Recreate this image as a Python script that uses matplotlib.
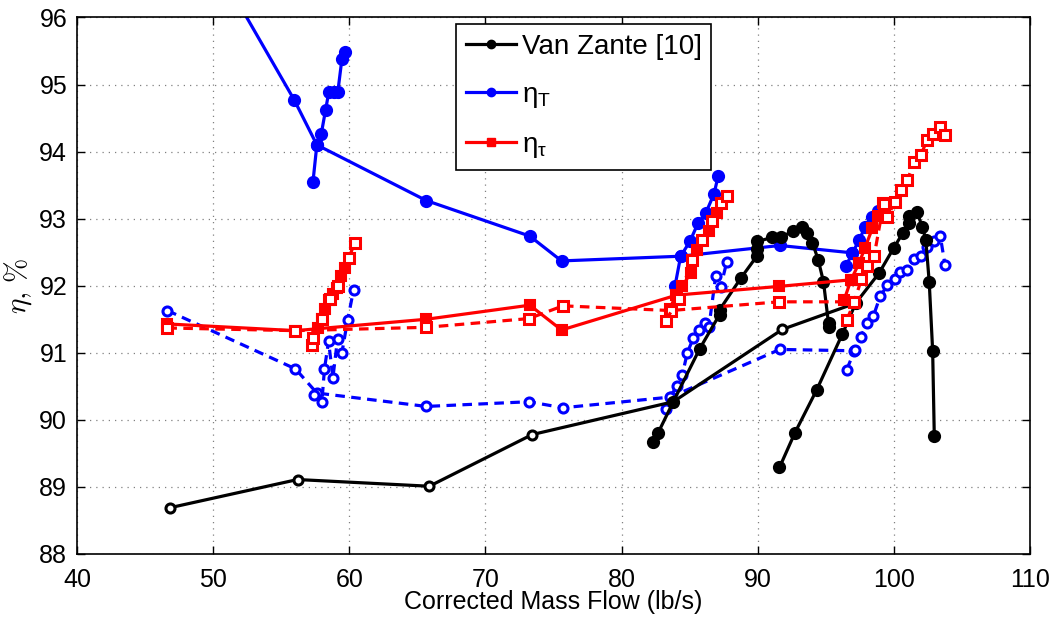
import numpy as np
import matplotlib
matplotlib.use('Agg')
import matplotlib.pyplot as plt
from matplotlib.lines import Line2D

plt.rcParams['font.family'] = ['Liberation Sans', 'DejaVu Sans']
plt.rcParams['mathtext.fontset'] = 'dejavusans'

# ---- Van Zante [10] (black) ----
vz_ol_x = [46.84, 56.2, 65.88, 73.43, 83.8, 91.82, 97.2]
vz_ol_y = [88.69, 89.11, 89.01, 89.78, 90.27, 91.35, 91.74]
vz_s1_x = [82.3, 82.67, 83.8, 85.74, 87.2, 87.2, 88.75, 89.97, 89.97, 89.97, 91.07, 91.69,
           92.62, 93.24, 93.65, 94.02, 94.44, 94.83, 95.2, 95.2]
vz_s1_y = [89.67, 89.8, 90.27, 91.06, 91.57, 91.64, 92.11, 92.45, 92.55, 92.66, 92.72, 92.73,
           92.81, 92.88, 92.78, 92.64, 92.39, 92.06, 91.44, 91.38]
vz_s2_x = [91.6, 92.74, 94.34, 96.22, 97.2, 98.92, 99.98, 100.64, 101.13, 101.13, 101.68,
           102.1, 102.35, 102.6, 102.85, 102.97]
vz_s2_y = [89.29, 89.81, 90.45, 91.28, 91.74, 92.19, 92.56, 92.78, 92.93, 93.04, 93.1,
           92.88, 92.68, 92.05, 91.03, 89.76]

# ---- eta_T (blue) ----
bt_ol_x = [46.8, 55.96, 57.62, 65.66, 73.26, 75.59, 84.34, 91.62, 96.96]
bt_ol_y = [98.0, 94.77, 94.1, 93.27, 92.74, 92.37, 92.44, 92.6, 92.49]
bt_ol2_x = [46.64, 56.05, 57.62, 65.66, 73.19, 75.7, 83.6, 91.62, 97.08]
bt_ol2_y = [91.63, 90.76, 90.40, 90.2, 90.27, 90.18, 90.34, 91.05, 91.03]
bt_s1_x = [57.33, 57.62, 57.94, 58.26, 58.5, 58.85, 59.16, 59.46, 59.7]
bt_s1_y = [93.54, 94.1, 94.26, 94.62, 94.89, 94.89, 94.89, 95.38, 95.49]
bt_d1_x = [57.38, 57.99, 58.18, 58.48, 58.8, 59.14, 59.46, 59.88, 60.32]
bt_d1_y = [90.37, 90.27, 90.76, 91.17, 90.63, 91.21, 91.0, 91.49, 91.94]
bt_s2_x = [83.92, 84.34, 85.02, 85.61, 86.18, 86.79, 87.09]
bt_s2_y = [91.99, 92.44, 92.66, 92.93, 93.08, 93.37, 93.63]
bt_d2_x = [83.24, 83.55, 84.1, 84.46, 84.83, 85.27, 85.68, 86.1, 86.42, 86.91, 87.28, 87.72]
bt_d2_y = [90.16, 90.34, 90.51, 90.67, 91.0, 91.22, 91.34, 91.44, 91.39, 92.14, 91.98, 92.35]
bt_s3_x = [96.47, 96.96, 97.45, 97.87, 98.36, 98.8]
bt_s3_y = [92.29, 92.49, 92.68, 92.87, 93.02, 93.11]
bt_d3_x = [96.54, 97.13, 97.57, 98.06, 98.5, 98.99, 99.53, 100.07, 100.46, 100.96, 101.5,
           101.99, 102.43, 102.92, 103.41, 103.76]
bt_d3_y = [90.75, 91.04, 91.24, 91.45, 91.55, 91.84, 92.01, 92.1, 92.21, 92.23, 92.4,
           92.45, 92.58, 92.67, 92.74, 92.31]

# ---- eta_tau (red) ----
rt_ol_x = [46.64, 56.05, 65.66, 73.26, 75.59, 84.04, 91.57, 96.96]
rt_ol_y = [91.43, 91.33, 91.50, 91.71, 91.34, 91.86, 91.99, 92.09]
rt_ol2_x = [46.64, 56.05, 65.66, 73.19, 75.7, 83.6, 91.57, 97.08]
rt_ol2_y = [91.37, 91.33, 91.38, 91.51, 91.70, 91.63, 91.76, 91.76]
rt_s1_x = [57.67, 57.99, 58.24, 58.53, 58.8, 59.09, 59.41, 59.71]
rt_s1_y = [91.37, 91.51, 91.65, 91.79, 91.88, 91.96, 92.14, 92.26]
rt_d1_x = [57.3, 57.35, 58.0, 58.6, 59.2, 59.97, 60.39]
rt_d1_y = [91.12, 91.22, 91.5, 91.8, 92.0, 92.41, 92.64]
rt_s2_x = [83.55, 83.97, 84.46, 85.07, 85.56, 86.42, 87.03]
rt_s2_y = [91.65, 91.86, 91.99, 92.19, 92.54, 92.81, 93.08]
rt_d2_x = [83.24, 84.2, 85.19, 85.93, 86.66, 87.28, 87.72]
rt_d2_y = [91.48, 91.8, 92.39, 92.68, 92.96, 93.23, 93.34]
rt_s3_x = [96.35, 96.84, 97.45, 97.87, 98.43, 98.8, 99.17]
rt_s3_y = [91.79, 92.08, 92.34, 92.56, 92.86, 93.04, 93.23]
rt_d3_x = [96.54, 97.08, 97.62, 98.06, 98.55, 99.24, 99.53, 100.07, 100.51, 101.0, 101.49,
           101.99, 102.43, 102.84, 103.41, 103.75]
rt_d3_y = [91.49, 91.75, 92.1, 92.3, 92.44, 93.22, 93.03, 93.25, 93.43, 93.58, 93.84,
           93.95, 94.17, 94.26, 94.36, 94.25]

legend_labels = ['Van Zante [10]', 'η$_\\mathregular{T}$', 'η$_\\mathregular{τ}$']

fig = plt.figure(figsize=(10.6, 6.2), dpi=100)
ax = fig.add_axes([0.0726, 0.1065, 0.8991, 0.8653])

lw = 2.3
solid_fill = dict(ls='-', lw=lw, marker='o', ms=8, mew=1.5)
dash_open = dict(ls='--', lw=lw, marker='o', ms=6.5, mew=2.2, mfc='white', dashes=(3, 2))

# blue
ax.plot(bt_ol_x, bt_ol_y, color='#0000ff', **solid_fill)
ax.plot(bt_s1_x, bt_s1_y, color='#0000ff', **solid_fill)
ax.plot(bt_s2_x, bt_s2_y, color='#0000ff', **solid_fill)
ax.plot(bt_s3_x, bt_s3_y, color='#0000ff', **solid_fill)
ax.plot(bt_ol2_x, bt_ol2_y, color='#0000ff', **dash_open)
ax.plot(bt_d1_x, bt_d1_y, color='#0000ff', **dash_open)
ax.plot(bt_d2_x, bt_d2_y, color='#0000ff', **dash_open)
ax.plot(bt_d3_x, bt_d3_y, color='#0000ff', **dash_open)

# black
ax.plot(vz_ol_x, vz_ol_y, color='black', ls='-', lw=lw, marker='o', ms=6.5, mew=2.2, mfc='white')
ax.plot(vz_s1_x, vz_s1_y, color='black', **solid_fill)
ax.plot(vz_s2_x, vz_s2_y, color='black', **solid_fill)

# red
sq_fill = dict(solid_fill, marker='s', ms=7.5)
sq_open = dict(dash_open, marker='s', ms=6.5)
ax.plot(rt_ol_x, rt_ol_y, color='#ff0000', **sq_fill)
ax.plot(rt_s1_x, rt_s1_y, color='#ff0000', **sq_fill)
ax.plot(rt_s2_x, rt_s2_y, color='#ff0000', **sq_fill)
ax.plot(rt_s3_x, rt_s3_y, color='#ff0000', **sq_fill)
ax.plot(rt_ol2_x, rt_ol2_y, color='#ff0000', **sq_open)
ax.plot(rt_d1_x, rt_d1_y, color='#ff0000', **sq_open)
ax.plot(rt_d2_x, rt_d2_y, color='#ff0000', **sq_open)
ax.plot(rt_d3_x, rt_d3_y, color='#ff0000', **sq_open)

ax.set_xlim(40, 110)
ax.set_ylim(88, 96)
ax.set_xticks(np.arange(40, 111, 10))
ax.set_yticks(np.arange(88, 97, 1))
ax.tick_params(direction='in', top=True, right=True, labelsize=18, length=6, width=1)
ax.tick_params(axis='x', pad=10)
ax.tick_params(axis='y', pad=7)
ax.grid(True, ls=(0, (1, 4)), color='#808080', lw=0.9)
for s in ax.spines.values():
    s.set_linewidth(1.2)

ax.set_xlabel('Corrected Mass Flow (lb/s)', fontsize=18, labelpad=-1)
ax.set_ylabel(r'$\eta,\,\%$', fontsize=21, math_fontfamily='cm', labelpad=4)

# legend handles
handles = [
    Line2D([], [], color='black', lw=lw, marker='o', ms=6),
    Line2D([], [], color='#0000ff', lw=lw, marker='o', ms=6),
    Line2D([], [], color='#ff0000', lw=lw, marker='s', ms=6),
]
leg = ax.legend(handles, legend_labels, loc='upper left', bbox_to_anchor=(0.398, 0.988),
                fontsize=20, fancybox=False, edgecolor='black', framealpha=1,
                handlelength=1.8, handletextpad=0.2, borderpad=0.35, labelspacing=0.8,
                borderaxespad=0)
leg.get_frame().set_linewidth(1.2)

fig.savefig('out.png', dpi=100)
